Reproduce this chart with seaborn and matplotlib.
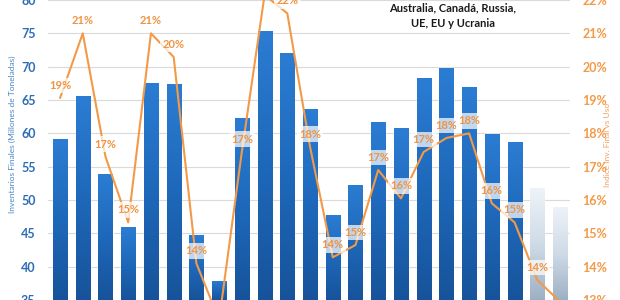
import numpy as np
import pandas as pd
import matplotlib
matplotlib.use("Agg")
import matplotlib.pyplot as plt
from matplotlib.colors import LinearSegmentedColormap
import seaborn as sns

# ---------------- data ----------------
periodos = [f"P{i+1}" for i in range(23)]
inventarios = [59.2, 65.6, 53.9, 45.9, 67.6, 67.4, 44.7, 37.9, 62.3, 75.4, 72.1,
               63.7, 47.8, 52.3, 61.7, 60.8, 68.3, 69.8, 67.0, 59.9, 58.7, 51.8, 49.0]
indice = [19.06, 21.0, 17.3, 15.33, 21.0, 20.29, 14.1, 12.4, 17.45, 22.15, 21.6,
          17.6, 14.28, 14.65, 16.9, 16.05, 17.44, 17.86, 18.0, 15.9, 15.33, 13.6, 12.95]
tipo = ["Real"] * 21 + ["Proyección"] * 2
left_ticks = [35, 40, 45, 50, 55, 60, 65, 70, 75, 80]
right_ticks = [13, 14, 15, 16, 17, 18, 19, 20, 21, 22]
titulo = "Australia, Canadá, Russia,\nUE, EU y Ucrania"
ylabel_left = "Inventarios Finales (Millones de Toneladas)"
ylabel_right = "Indice Inv. Final vs Uso"

df = pd.DataFrame({"periodo": periodos, "inv": inventarios, "tipo": tipo,
                   "idx": indice, "pos": np.arange(len(periodos))})

sns.set_style("white")
plt.rcParams["font.family"] = ["Lato", "DejaVu Sans"]

BLUE = "#2070C2"
LIGHT = "#CAD8E6"
ORANGE = "#F29A48"
TICK_BLUE = "#2E6DB4"

fig = plt.figure(figsize=(6.2, 3.0), dpi=100)
ax = fig.add_axes([48 / 620, 0, 522 / 620, 1])

sns.barplot(data=df, x="periodo", y="inv", hue="tipo",
            palette={"Real": BLUE, "Proyección": LIGHT},
            dodge=False, width=0.62, legend=False, ax=ax, zorder=2,
            saturation=1)

YMIN, YMAX = 35, 80
XMIN, XMAX = -0.53, 22.44

# gradient fill inside each bar drawn by seaborn
cm_real = LinearSegmentedColormap.from_list("real", ["#2B7DD3", "#1E68BA", "#17539A"])
cm_proj = LinearSegmentedColormap.from_list("proj", ["#EEF3F8", "#CFDBE7", "#9DB0C3"])
grad = np.linspace(0, 1, 256).reshape(-1, 1)
for p in list(ax.patches):
    h = p.get_height()
    if not np.isfinite(h) or h <= 0:
        continue
    x0 = p.get_x()
    w = p.get_width()
    k = int(round(x0 + w / 2))
    cmap = cm_proj if tipo[k] == "Proyección" else cm_real
    im = ax.imshow(grad, extent=[x0, x0 + w, YMIN, h], cmap=cmap, aspect="auto",
                   zorder=2.1, origin="upper")
    im.set_clip_path(p)

ax.set_ylim(YMIN, YMAX)
ax.set_xlim(XMIN, XMAX)
ax.set_aspect("auto")
ax.set_yticks(left_ticks)
ax.set_yticklabels([str(t) for t in left_ticks], color=TICK_BLUE,
                   fontsize=9, fontweight="bold")
ax.tick_params(axis="y", length=0, pad=9)
ax.set_xticks([])
ax.set_xlabel("")
ax.set_ylabel("")
ax.grid(axis="y", color="#DADADA", lw=0.8)
ax.set_axisbelow(True)
for s in ax.spines.values():
    s.set_visible(False)

ax2 = ax.twinx()
sns.lineplot(data=df, x="pos", y="idx", ax=ax2, color=ORANGE, lw=1.5, zorder=3)
ax2.set_ylim(13, 22)
ax2.set_yticks(right_ticks)
ax2.set_yticklabels([f"{t}%" for t in right_ticks], color=ORANGE,
                    fontsize=9, fontweight="bold")
ax2.tick_params(axis="y", length=0, pad=9)
ax2.set_xlabel("")
ax2.set_ylabel("")
ax2.grid(False)
for s in ax2.spines.values():
    s.set_visible(False)
ax.set_xlim(XMIN, XMAX)

for i, v in enumerate(indice):
    ax2.annotate(f"{round(v)}%", (i, v), xytext=(0, 9), textcoords="offset points",
                 ha="center", va="center", color="#EE9443", fontsize=8,
                 fontweight="bold", zorder=4,
                 bbox=dict(boxstyle="square,pad=0.2", fc="white", ec="none", alpha=0.72))

fig.text(453 / 620, 1 - 16 / 300, titulo, ha="center", va="center", fontsize=8,
         fontweight="bold", color="#1A1A1A", linespacing=1.5)
fig.text(12 / 620, 1 - 134 / 300, ylabel_left, rotation=90, ha="center", va="center",
         fontsize=6, color="#4A86C5")
fig.text(608 / 620, 1 - 145 / 300, ylabel_right, rotation=90, ha="center", va="center",
         fontsize=6, color="#F0A060")

fig.savefig("out.png", dpi=100)
